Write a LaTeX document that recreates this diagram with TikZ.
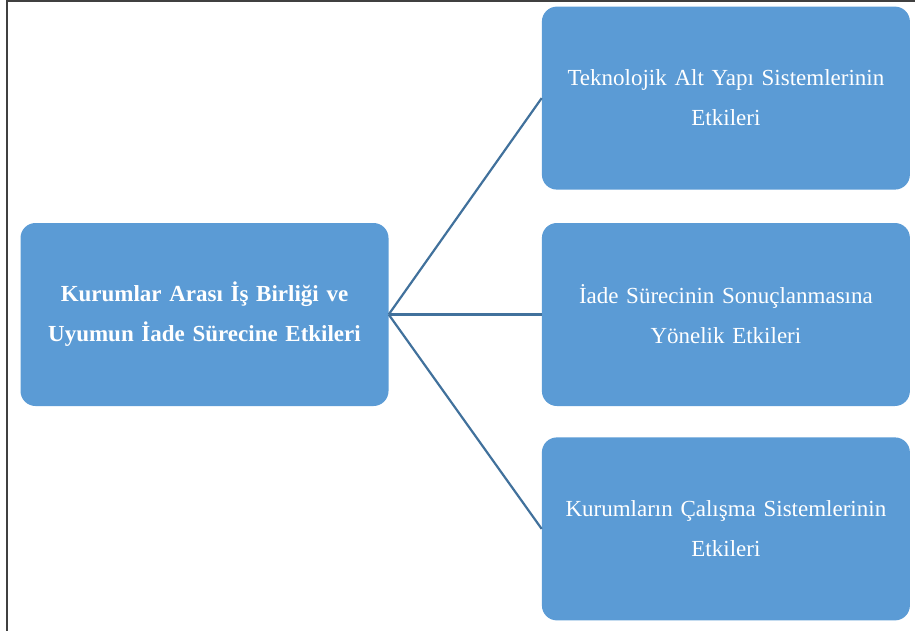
\documentclass[tikz,border=0pt]{standalone}
\usepackage{fontspec}
\setmainfont{Liberation Serif}
\usetikzlibrary{positioning}

\definecolor{kutumavi}{HTML}{5B9BD5}
\definecolor{cizgimavi}{HTML}{41719C}

\begin{document}
\begin{tikzpicture}[x=1pt,y=-1pt,
    kutu/.style={fill=kutumavi, rounded corners=15pt, minimum width=368pt,
        minimum height=183pt, text width=350pt, align=center, text=white,
        font=\fontsize{23}{40}\selectfont},
    bag/.style={draw=cizgimavi, line width=2.2pt}]
    \useasboundingbox (0,0) rectangle (915,631);
    \draw[line width=1.6pt, black!75] (7,631) -- (7,1) -- (915,1);

    \node[kutu, font=\bfseries\fontsize{23}{40}\selectfont] (ana) at (204.5,314.5)
        {Kurumlar Arası İş Birliği ve\\Uyumun İade Sürecine Etkileri};
    \node[kutu, right=153pt of ana] (iade)
        {İade Sürecinin Sonuçlanmasına\\Yönelik Etkileri};
    \node[kutu, above=33pt of iade] (teknoloji)
        {Teknolojik Alt Yapı Sistemlerinin\\Etkileri};
    \node[kutu, below=31pt of iade] (calisma)
        {Kurumların Çalışma Sistemlerinin\\Etkileri};

    \draw[bag] (ana.east) -- (teknoloji.west);
    \draw[bag] (ana.east) -- (iade.west);
    \draw[bag] (ana.east) -- (calisma.west);
\end{tikzpicture}
\end{document}
